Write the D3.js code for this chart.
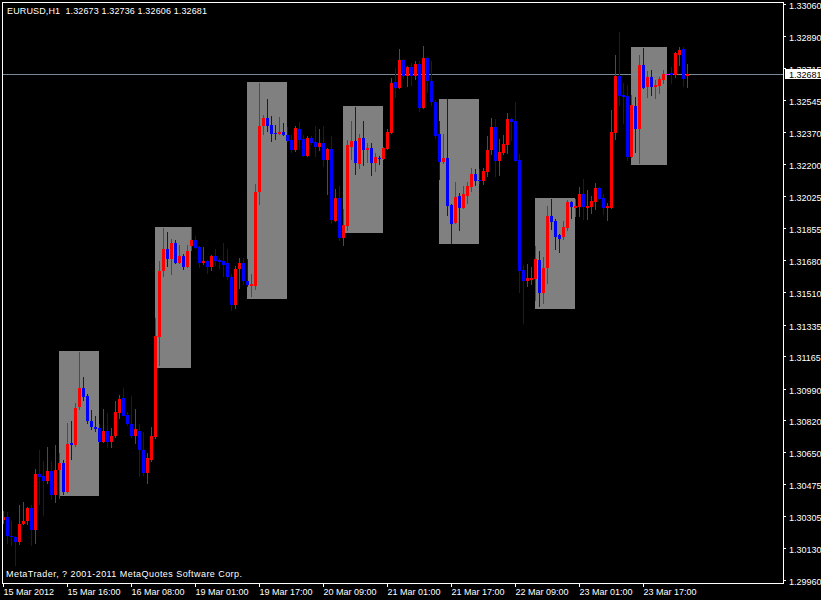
<!DOCTYPE html>
<html>
<head>
<meta charset="utf-8">
<script src="https://cdn.jsdelivr.net/npm/d3@7"></script>
<style>
  html, body { margin: 0; padding: 0; background: #000; }
  svg { display: block; }
  text { font-family: "Liberation Sans", Arial, sans-serif; font-size: 9px; }
</style>
</head>
<body>
<svg id="chart" width="821" height="600"></svg>
<script>
const symbol = "EURUSD,H1";
const copyright = "MetaTrader, ? 2001-2011 MetaQuotes Software Corp.";

const opens = [
1.30285,1.30298,1.30199,1.30192,1.30163,1.30260,1.30276,1.30350,1.30228,1.30528,
1.30522,1.30495,1.30549,1.30416,1.30551,1.30587,1.30432,1.30700,1.30684,1.30892,
1.30996,1.30949,1.30818,1.30786,1.30780,1.30701,1.30764,1.30701,1.30734,1.30859,
1.30942,1.30850,1.30797,1.30737,1.30764,1.30662,1.30537,1.30604,1.30732,1.31270,
1.31621,1.31743,1.31690,1.31776,1.31664,1.31706,1.31643,1.31760,1.31792,1.31754,
1.31664,1.31679,1.31643,1.31706,1.31680,1.31675,1.31668,1.31593,1.31442,1.31632,
1.31664,1.31568,1.31541,1.31541,1.32046,1.32401,1.32448,1.32411,1.32368,1.32362,
1.32373,1.32357,1.32330,1.32276,1.32389,1.32335,1.32244,1.32341,1.32319,1.32292,
1.32314,1.32222,1.32281,1.31894,1.32018,1.31803,1.31867,1.32292,1.32324,1.32201,
1.32341,1.32276,1.32287,1.32206,1.32233,1.32228,1.32281,1.32368,1.32638,1.32610,
1.32760,1.32673,1.32723,1.32673,1.32739,1.32502,1.32771,1.32647,1.32534,1.32362,
1.32211,1.32233,1.31980,1.31883,1.32029,1.31964,1.32029,1.32077,1.32147,1.32115,
1.32109,1.32158,1.32272,1.32400,1.32217,1.32260,1.32303,1.32443,1.32432,1.32222,
1.31630,1.31571,1.31577,1.31582,1.31684,1.31507,1.31641,1.31921,1.31894,1.31819,
1.31808,1.31856,1.31996,1.31964,1.31969,1.32039,1.31964,1.31969,1.31996,1.32072,
1.32018,1.31964,1.31964,1.32368,1.32674,1.32572,1.32567,1.32238,1.32513,1.32389,
1.32733,1.32613,1.32669,1.32613,1.32619,1.32653,1.32685,1.32690,1.32680,1.32787,
1.32819,1.32673];

const highs = [
1.30334,1.30328,1.30276,1.30199,1.30366,1.30382,1.30355,1.30366,1.30560,1.30662,
1.30599,1.30674,1.30599,1.30684,1.30641,1.30608,1.30807,1.30818,1.30910,1.31186,
1.31051,1.30963,1.30877,1.30840,1.30797,1.30883,1.30861,1.30780,1.30926,1.30958,
1.30996,1.30866,1.30949,1.30883,1.30797,1.30759,1.30641,1.30786,1.31372,1.31679,
1.31856,1.31835,1.31797,1.31792,1.31765,1.31717,1.31765,1.31862,1.31813,1.31760,
1.31754,1.31684,1.31711,1.31743,1.31695,1.31776,1.31743,1.31605,1.31648,1.31695,
1.31695,1.31690,1.31609,1.32093,1.32637,1.32464,1.32550,1.32459,1.32411,1.32454,
1.32421,1.32400,1.32357,1.32405,1.32427,1.32357,1.32351,1.32351,1.32405,1.32389,
1.32405,1.32287,1.32351,1.32066,1.32082,1.31959,1.32330,1.32432,1.32507,1.32362,
1.32432,1.32314,1.32314,1.32260,1.32244,1.32292,1.32389,1.32663,1.32717,1.32819,
1.32766,1.32728,1.32744,1.32755,1.32755,1.32836,1.32776,1.32755,1.32545,1.32432,
1.32362,1.32550,1.31986,1.32104,1.32045,1.32082,1.32104,1.32179,1.32174,1.32174,
1.32179,1.32351,1.32448,1.32443,1.32335,1.32357,1.32475,1.32448,1.32534,1.32255,
1.31657,1.31663,1.31647,1.31760,1.31733,1.31700,1.31975,1.32012,1.31905,1.31824,
1.31894,1.32007,1.32002,1.32012,1.32077,1.32120,1.32061,1.32029,1.32099,1.32077,
1.32039,1.31991,1.32491,1.32787,1.32911,1.32637,1.32626,1.32572,1.32561,1.32787,
1.32825,1.32701,1.32706,1.32653,1.32669,1.32706,1.32685,1.32723,1.32803,1.32830,
1.32830,1.32736];

const lows = [
1.30264,1.30156,1.30142,1.30033,1.30147,1.30255,1.30255,1.30142,1.30153,1.30366,
1.30303,1.30474,1.30393,1.30372,1.30398,1.30420,1.30428,1.30608,1.30674,1.30877,
1.30922,1.30802,1.30766,1.30755,1.30700,1.30698,1.30669,1.30669,1.30723,1.30829,
1.30840,1.30791,1.30723,1.30694,1.30513,1.30518,1.30479,1.30597,1.30721,1.31114,
1.31589,1.31643,1.31600,1.31663,1.31663,1.31627,1.31641,1.31733,1.31743,1.31637,
1.31654,1.31605,1.31621,1.31648,1.31632,1.31589,1.31573,1.31406,1.31417,1.31528,
1.31546,1.31539,1.31484,1.31519,1.31980,1.32357,1.32373,1.32319,1.32330,1.32357,
1.32351,1.32316,1.32260,1.32265,1.32276,1.32238,1.32238,1.32303,1.32238,1.32271,
1.32185,1.32034,1.31878,1.31889,1.31786,1.31760,1.31840,1.32222,1.32142,1.32174,
1.32190,1.32206,1.32136,1.32158,1.32195,1.32222,1.32276,1.32362,1.32556,1.32603,
1.32656,1.32613,1.32619,1.32651,1.32479,1.32497,1.32581,1.32513,1.32335,1.32115,
1.32201,1.31921,1.31770,1.31878,1.31840,1.31959,1.31986,1.32050,1.32082,1.32093,
1.32088,1.32131,1.32249,1.32131,1.32136,1.32249,1.32255,1.32324,1.32211,1.31507,
1.31336,1.31535,1.31550,1.31460,1.31428,1.31444,1.31551,1.31842,1.31734,1.31718,
1.31788,1.31837,1.31905,1.31916,1.31916,1.31899,1.31899,1.31932,1.31953,1.32007,
1.31926,1.31894,1.31959,1.32330,1.32513,1.32416,1.32217,1.32233,1.32260,1.32201,
1.32604,1.32556,1.32567,1.32550,1.32577,1.32631,1.32685,1.32631,1.32663,1.32728,
1.32615,1.32606];

const closes = [
1.30299,1.30196,1.30191,1.30163,1.30264,1.30278,1.30350,1.30228,1.30528,1.30515,
1.30495,1.30549,1.30416,1.30554,1.30587,1.30432,1.30694,1.30684,1.30888,1.30996,
1.30946,1.30814,1.30782,1.30775,1.30701,1.30764,1.30701,1.30737,1.30866,1.30936,
1.30845,1.30797,1.30737,1.30770,1.30657,1.30537,1.30614,1.30737,1.31275,1.31625,
1.31743,1.31690,1.31776,1.31664,1.31706,1.31643,1.31733,1.31792,1.31749,1.31664,
1.31679,1.31643,1.31706,1.31675,1.31673,1.31657,1.31589,1.31442,1.31636,1.31664,
1.31568,1.31546,1.31551,1.32050,1.32405,1.32448,1.32405,1.32362,1.32362,1.32373,
1.32357,1.32324,1.32276,1.32394,1.32330,1.32244,1.32341,1.32314,1.32292,1.32314,
1.32222,1.32281,1.31899,1.32018,1.31803,1.31873,1.32303,1.32324,1.32206,1.32341,
1.32276,1.32287,1.32206,1.32238,1.32228,1.32287,1.32373,1.32637,1.32610,1.32760,
1.32673,1.32723,1.32673,1.32739,1.32502,1.32771,1.32644,1.32534,1.32351,1.32211,
1.32233,1.31975,1.31878,1.32023,1.31964,1.32039,1.32082,1.32147,1.32109,1.32109,
1.32163,1.32276,1.32400,1.32217,1.32265,1.32308,1.32443,1.32427,1.32217,1.31621,
1.31571,1.31587,1.31587,1.31690,1.31507,1.31641,1.31921,1.31889,1.31808,1.31797,
1.31862,1.31996,1.31969,1.31975,1.32039,1.31969,1.31975,1.32002,1.32072,1.32012,
1.31964,1.31975,1.32373,1.32674,1.32567,1.32561,1.32238,1.32518,1.32389,1.32733,
1.32608,1.32669,1.32613,1.32626,1.32658,1.32685,1.32685,1.32680,1.32798,1.32814,
1.32658,1.32681];

// session boxes: bar index range and price range
const boxStart = [14, 38, 61, 85, 109, 133, 157];
const boxEnd   = [24, 47, 71, 95, 119, 143, 166];
const boxHigh  = [1.31195, 1.31862, 1.32642, 1.32513, 1.32550, 1.32018, 1.32830];
const boxLow   = [1.30411, 1.31103, 1.31474, 1.31830, 1.31770, 1.31417, 1.32195];

const priceTicks = [1.33060,1.32890,1.32715,1.32545,1.32370,1.32200,1.32025,1.31855,1.31680,
  1.31510,1.31335,1.31165,1.30990,1.30820,1.30650,1.30475,1.30305,1.30130,1.29960];
const timeTickBars = [0,16,32,48,64,80,96,112,128,144,160];
const timeLabels = ["15 Mar 2012","15 Mar 16:00","16 Mar 08:00","19 Mar 01:00","19 Mar 17:00",
  "20 Mar 09:00","21 Mar 01:00","21 Mar 17:00","22 Mar 09:00","23 Mar 01:00","23 Mar 17:00"];

const currentPrice = 1.32681;

const svg = d3.select("#chart");
const n = opens.length;
const x = d3.scaleLinear().domain([0, n - 1]).range([3, 3 + 4 * (n - 1)]);
const y = d3.scaleLinear().domain([d3.min(priceTicks), d3.max(priceTicks)]).rangeRound([580, 4]);

svg.append("rect").attr("width", 821).attr("height", 600).attr("fill", "#000");

// session boxes
svg.append("g").selectAll("rect").data(boxStart).join("rect")
  .attr("x", (d) => x(d))
  .attr("width", (d, i) => x(boxEnd[i]) - x(d))
  .attr("y", (d, i) => y(boxHigh[i]))
  .attr("height", (d, i) => y(boxLow[i]) - y(boxHigh[i]))
  .attr("fill", "#808080");

// current price line
const yp = y(currentPrice);
svg.append("line")
  .attr("x1", 3).attr("x2", 783)
  .attr("y1", yp + 0.5).attr("y2", yp + 0.5)
  .attr("stroke", "#778899").attr("stroke-width", 1);

// candles
const idx = d3.range(n);
const colorOf = (i) => closes[i] > opens[i] ? "#ff0000" : (closes[i] < opens[i] ? "#0000ff" : "#ff00ff");
const gC = svg.append("g").attr("shape-rendering", "crispEdges");
gC.selectAll("rect.wick").data(idx).join("rect").attr("class", "wick")
  .attr("x", (i) => x(i))
  .attr("width", 1)
  .attr("y", (i) => y(highs[i]))
  .attr("height", (i) => Math.max(1, y(lows[i]) - y(highs[i])))
  .attr("fill", colorOf);
gC.selectAll("rect.body").data(idx).join("rect").attr("class", "body")
  .attr("x", (i) => x(i) - 1)
  .attr("width", 3)
  .attr("y", (i) => Math.min(y(opens[i]), y(closes[i])))
  .attr("height", (i) => Math.max(1, Math.abs(y(opens[i]) - y(closes[i]))))
  .attr("fill", colorOf);

// frame
svg.append("rect")
  .attr("x", 2.5).attr("y", 2.5).attr("width", 781).attr("height", 581)
  .attr("fill", "none").attr("stroke", "#fff").attr("stroke-width", 1);

// price axis
const ax = svg.append("g").attr("transform", "translate(783,0)")
  .call(d3.axisRight(y).tickValues(priceTicks).tickSize(3).tickPadding(3).tickFormat(d3.format(".5f")));
ax.select(".domain").remove();
ax.selectAll("line").attr("stroke", "#fff");
ax.selectAll("text").attr("fill", "#fff").attr("dy", "0.47em")
  .style("font-family", "'Liberation Sans', Arial, sans-serif").style("font-size", "9px");

// time axis
const tx = svg.append("g").attr("transform", "translate(0,583)")
  .call(d3.axisBottom(x).tickValues(timeTickBars).tickSize(4).tickPadding(2)
    .tickFormat((d, i) => timeLabels[i]));
tx.select(".domain").remove();
tx.selectAll("line").attr("stroke", "#fff");
tx.selectAll("text").attr("fill", "#fff").attr("text-anchor", "start").attr("x", 0)
  .style("font-family", "'Liberation Sans', Arial, sans-serif").style("font-size", "9px");

// current price label
svg.append("rect").attr("x", 785).attr("y", yp - 5).attr("width", 36).attr("height", 10).attr("fill", "#fff");
svg.append("text").attr("x", 789).attr("y", yp + 4.2).attr("fill", "#000")
  .text(d3.format(".5f")(currentPrice));

// title
const last = n - 1;
svg.append("text").attr("x", 7).attr("y", 14).attr("fill", "#fff").style("white-space", "pre")
  .attr("textLength", 200).attr("lengthAdjust", "spacing")
  .text(symbol + "  " + [opens[last], highs[last], lows[last], closes[last]].map(d3.format(".5f")).join(" "));

// copyright
svg.append("text").attr("x", 6).attr("y", 577).attr("fill", "#fff")
  .attr("textLength", 236).attr("lengthAdjust", "spacing")
  .text(copyright);
</script>
</body>
</html>
